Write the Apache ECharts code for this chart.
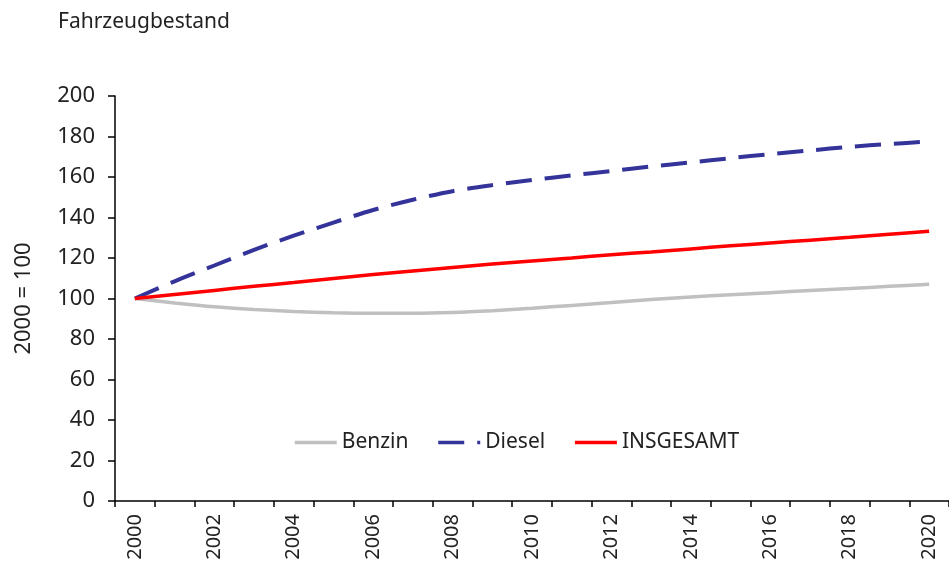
<!DOCTYPE html>
<html>
<head>
<meta charset="utf-8">
<script src="https://cdn.jsdelivr.net/npm/echarts@6/dist/echarts.min.js"></script>
<style>
html,body{margin:0;padding:0;background:#fff;}
#chart{width:949px;height:569px;}
</style>
</head>
<body>
<div id="chart"></div>
<script>
const years = ['2000','2001','2002','2003','2004','2005','2006','2007','2008','2009','2010','2011','2012','2013','2014','2015','2016','2017','2018','2019','2020'];
const benzin = [100, 97.8, 95.9, 94.6, 93.6, 93.0, 92.7, 92.7, 93.1, 94.0, 95.2, 96.6, 98.0, 99.5, 100.8, 101.9, 102.9, 103.9, 104.9, 106.0, 107.0];
const diesel = [100, 108.5, 116.3, 124.0, 131.0, 137.5, 143.7, 148.8, 153.0, 156.0, 158.5, 160.8, 163.0, 165.2, 167.2, 169.3, 171.3, 173.1, 174.9, 176.3, 177.5];
const insgesamt = [100, 102.0, 104.0, 106.0, 107.9, 109.9, 111.8, 113.6, 115.3, 117.0, 118.5, 120.0, 121.6, 123.0, 124.5, 126.0, 127.4, 128.8, 130.2, 131.7, 133.2];
const yTitle = '2000 = 100';
const chartTitle = 'Fahrzeugbestand';

const FONT = '"Noto Sans", sans-serif';
const chart = echarts.init(document.getElementById('chart'), null, {renderer: 'canvas'});
chart.setOption({
  animation: false,
  backgroundColor: '#ffffff',
  textStyle: {fontFamily: FONT},
  title: {
    text: chartTitle,
    left: 53, top: 7,
    textStyle: {fontFamily: FONT, fontSize: 21, fontWeight: 'normal', color: '#222'}
  },
  legend: {
    left: 288, top: 427,
    itemWidth: 42, itemHeight: 14, itemGap: 28,
    itemStyle: {opacity: 0},
    lineStyle: {width: 3.5},
    textStyle: {fontFamily: FONT, fontSize: 21, color: '#222'},
    data: ['Benzin', 'Diesel', 'INSGESAMT']
  },
  grid: {left: 115, right: -1, top: 96, bottom: 68, containLabel: false},
  xAxis: {
    type: 'category',
    data: years,
    boundaryGap: true,
    axisLine: {lineStyle: {color: '#000', width: 1.5}},
    axisTick: {show: true, length: 6, interval: 0, alignWithLabel: false, lineStyle: {color: '#000', width: 1.5}},
    axisLabel: {interval: 1, rotate: 90, fontFamily: FONT, fontSize: 20, color: '#222', margin: 13},
    splitLine: {show: false}
  },
  yAxis: {
    type: 'value',
    min: 0, max: 200, interval: 20,
    name: yTitle,
    nameLocation: 'middle',
    nameRotate: 90,
    nameGap: 80,
    nameTextStyle: {fontFamily: FONT, fontSize: 22, color: '#222'},
    axisLine: {show: true, lineStyle: {color: '#000', width: 1.5}},
    axisTick: {show: true, length: 7, lineStyle: {color: '#000', width: 1.5}},
    axisLabel: {fontFamily: FONT, fontSize: 22, color: '#222', margin: 20},
    splitLine: {show: false}
  },
  series: [
    {
      name: 'Benzin', type: 'line', data: benzin, smooth: 0.3,
      symbol: 'none', showSymbol: false,
      lineStyle: {color: '#c0c0c0', width: 3.5},
      itemStyle: {color: '#c0c0c0'}, z: 2
    },
    {
      name: 'Diesel', type: 'line', data: diesel, smooth: 0.3,
      symbol: 'none', showSymbol: false,
      lineStyle: {color: '#333399', width: 4, type: [26, 13]},
      itemStyle: {color: '#333399'}, z: 3
    },
    {
      name: 'INSGESAMT', type: 'line', data: insgesamt, smooth: 0.3,
      symbol: 'none', showSymbol: false,
      lineStyle: {color: '#ff0000', width: 3.5},
      itemStyle: {color: '#ff0000'}, z: 4
    }
  ]
});
</script>
</body>
</html>
